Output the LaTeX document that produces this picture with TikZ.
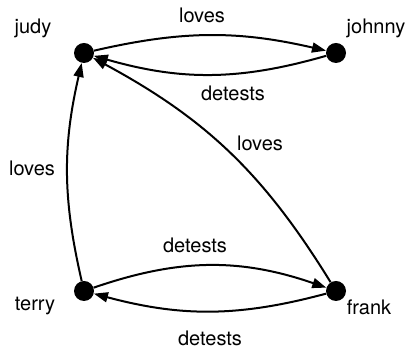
\documentclass[tikz,border=0pt]{standalone}
\usepackage{fontspec}
\setmainfont{TeX Gyre Heros}
\usepackage{tikz}
\usetikzlibrary{arrows.meta}
\tikzset{
  ar/.style={-{Triangle[length=10.5pt,width=7.5pt]},line width=1.5pt,black},
  dot/.style={circle,fill=black,minimum size=15pt,inner sep=0pt},
  lbl/.style={font=\fontsize{15}{18}\selectfont,inner sep=0pt}
}

\begin{document}
\begin{tikzpicture}[x=0.75pt,y=0.75pt]
\useasboundingbox (0,0) rectangle (411,348);
% people
\node[dot] (judy) at (84,295) {};
\node[dot] (johnny) at (336,295) {};
\node[dot] (terry) at (84,57) {};
\node[dot] (frank) at (336,57) {};
\node[lbl] (judyname) at (33,320) {judy};
\node[lbl] (johnnyname) at (376,320) {johnny};
\node[lbl] (terryname) at (35,42) {terry};
\node[lbl] (frankname) at (369,41) {frank};
% relations
\draw[ar] (judy) to[bend left=13] (johnny);
\draw[ar] (johnny) to[bend left=16] (judy);
\draw[ar] (terry) to[bend left=13] (judy);
\draw[ar] (frank) to[bend right=15] (judy);
\draw[ar] (terry) to[bend left=19] (frank);
\draw[ar] (frank) to[bend left=15] (terry);
\node[lbl] (l1) at (202,333) {loves};
\node[lbl] (l2) at (233,255) {detests};
\node[lbl] (l3) at (260,205) {loves};
\node[lbl] (l4) at (32,180) {loves};
\node[lbl] (l5) at (195,103) {detests};
\node[lbl] (l6) at (210,10) {detests};
\end{tikzpicture}
\end{document}
